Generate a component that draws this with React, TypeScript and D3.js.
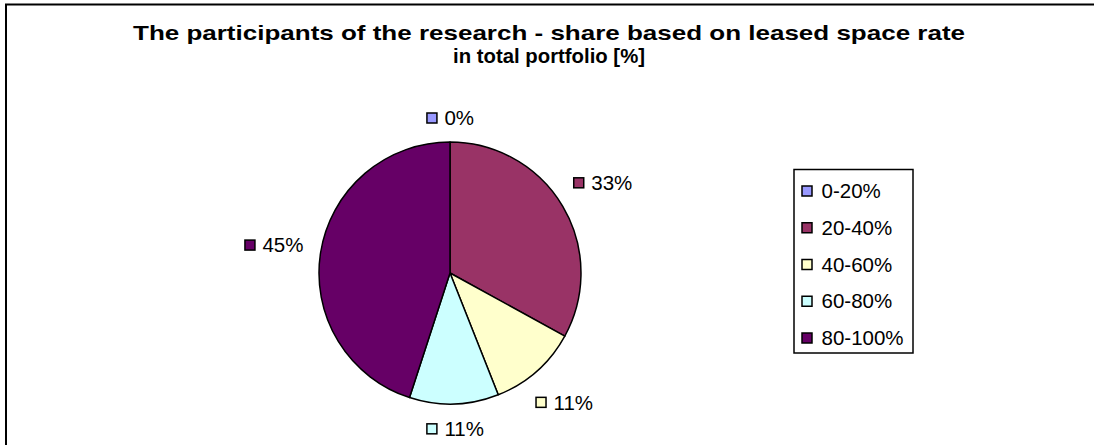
import React, { useRef, useEffect } from "react";
import * as d3 from "d3";

const categories = ["0-20%", "20-40%", "40-60%", "60-80%", "80-100%"];
const shares = [0, 33, 11, 11, 45];
const colors = ["#9999FF", "#993366", "#FFFFCC", "#CCFFFF", "#660066"];
const titleLines = [
  "The participants of the research  -  share based on leased space rate",
  "in total portfolio [%]",
];

function App() {
  const svgRef = useRef<SVGSVGElement>(null);

  useEffect(() => {
    const width = 1094,
      height = 445;
    const svg = d3.select(svgRef.current);
    svg.selectAll("*").remove();
    const font = "'Liberation Sans', Arial, sans-serif";

    // chart area frame (right and bottom edges are cropped off)
    svg
      .append("rect")
      .attr("x", 6)
      .attr("y", 4.5)
      .attr("width", width + 50)
      .attr("height", height + 50)
      .attr("fill", "white")
      .attr("stroke", "black")
      .attr("stroke-width", 2);

    svg
      .selectAll("text.title")
      .data(titleLines)
      .enter()
      .append("text")
      .attr("class", "title")
      .attr("x", 549)
      .attr("y", (d, i) => 39.5 + i * 23)
      .attr("text-anchor", "middle")
      .attr("font-family", font)
      .attr("font-weight", "bold")
      .attr("font-size", 21)
      .attr("textLength", (d, i) => (i === 0 ? 832 : 192))
      .attr("lengthAdjust", "spacingAndGlyphs")
      .text((d) => d);

    const cx = 450,
      cy = 273,
      r = 131;
    const data = categories.map((c, i) => ({ cat: c, value: shares[i], color: colors[i] }));
    const pie = d3
      .pie<any>()
      .sort(null)
      .value((d) => d.value);
    const arcs = pie(data);
    const arc = d3.arc<any>().innerRadius(0).outerRadius(r);

    const g = svg.append("g").attr("transform", `translate(${cx},${cy})`);
    g.selectAll("path")
      .data(arcs.filter((a) => a.data.value > 0))
      .enter()
      .append("path")
      .attr("d", arc)
      .attr("fill", (d) => d.data.color)
      .attr("stroke", "black")
      .attr("stroke-width", 1.5)
      .attr("stroke-linejoin", "round");

    // data labels outside, box touching a circle around the pie
    const fs = 20.5;
    const labels = g
      .selectAll("g.lbl")
      .data(arcs)
      .enter()
      .append("g")
      .attr("class", "lbl");
    labels.each(function (d) {
      const sel = d3.select(this);
      const txt = `${d.data.value}%`;
      const t = sel
        .append("text")
        .attr("font-family", font)
        .attr("font-size", fs)
        .attr("x", 18.5)
        .attr("y", 0)
        .attr("dy", "0.35em")
        .text(txt);
      const tw = (t.node() as SVGTextElement).getComputedTextLength();
      sel
        .append("rect")
        .attr("x", 1)
        .attr("y", -5)
        .attr("width", 10)
        .attr("height", 10)
        .attr("fill", d.data.color)
        .attr("stroke", "black")
        .attr("stroke-width", 1.5);
      const w = 18.5 + tw;
      const h = 14;
      const a = (d.startAngle + d.endAngle) / 2;
      const R = r + 17 + Math.abs(Math.sin(a)) * w / 2 + Math.abs(Math.cos(a)) * h / 2;
      const px = Math.sin(a) * R - w / 2;
      const py = -Math.cos(a) * R;
      sel.attr("transform", `translate(${px},${py})`);
    });

    // legend
    const lg = svg.append("g").attr("transform", "translate(794,169.5)");
    lg.append("rect")
      .attr("width", 119)
      .attr("height", 183.5)
      .attr("fill", "white")
      .attr("stroke", "black")
      .attr("stroke-width", 1.5);
    const y = d3
      .scalePoint()
      .domain(categories)
      .range([21.5, 168.5]);
    const items = lg
      .selectAll("g.item")
      .data(data)
      .enter()
      .append("g")
      .attr("class", "item")
      .attr("transform", (d) => `translate(0,${y(d.cat)})`);
    items
      .append("rect")
      .attr("x", 8)
      .attr("y", -5)
      .attr("width", 10)
      .attr("height", 10)
      .attr("fill", (d) => d.color)
      .attr("stroke", "black")
      .attr("stroke-width", 1.5);
    items
      .append("text")
      .attr("x", 27.5)
      .attr("dy", "0.35em")
      .attr("font-family", font)
      .attr("font-size", fs)
      .text((d) => d.cat);
  }, []);

  return (
    <svg
      ref={svgRef}
      width={1094}
      height={445}
      style={{ position: "absolute", left: 0, top: 0, background: "white" }}
    ></svg>
  );
}

export default App;
